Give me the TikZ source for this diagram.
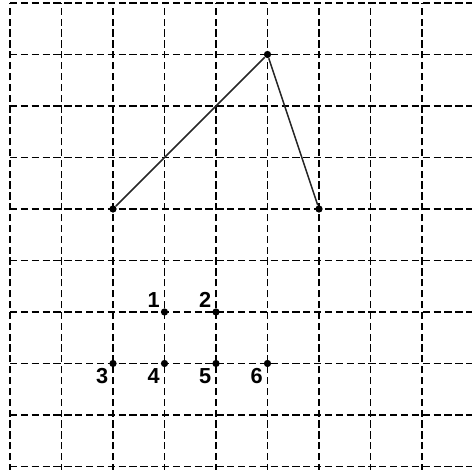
\documentclass[tikz,border=0pt]{standalone}
\usepackage{fontspec}
\setmainfont{Liberation Sans}

\begin{document}
\begin{tikzpicture}[x=1cm, y=1cm, font=\bfseries\fontsize{12}{12}\selectfont,
  gridline/.style={dash pattern=on 4pt off 2pt, line width=0.85pt},
  side/.style={line width=0.85pt, gray!30!black},
  dot/.style={circle, fill, inner sep=0pt, minimum size=4pt},
  lbl/.style={inner sep=2.4pt}]
  % 1 square = 51.5px
  \useasboundingbox (-0.194,-0.049) rectangle (8.971,9.058);
  \clip (-0.194,-0.049) rectangle (8.971,9.058);
  \draw[gridline] (0,-0.3) grid (9.3,9);
  % triangle corners
  \node[dot] (top) at (5,8) {};
  \node[dot] (left) at (2,5) {};
  \node[dot] (right) at (6,5) {};
  \draw[side] (left) -- (top) -- (right);
  % numbered points
  \node[dot] (p1) at (3,3) {};
  \node[dot] (p2) at (4,3) {};
  \node[dot] (p3) at (2,2) {};
  \node[dot] (p4) at (3,2) {};
  \node[dot] (p5) at (4,2) {};
  \node[dot] (p6) at (5,2) {};
  \node[lbl, anchor=south east] (l1) at (p1.center) {1};
  \node[lbl, anchor=south east] (l2) at (p2.center) {2};
  \node[lbl, anchor=north east] (l3) at (p3.center) {3};
  \node[lbl, anchor=north east] (l4) at (p4.center) {4};
  \node[lbl, anchor=north east] (l5) at (p5.center) {5};
  \node[lbl, anchor=north east] (l6) at (p6.center) {6};
\end{tikzpicture}
\end{document}
